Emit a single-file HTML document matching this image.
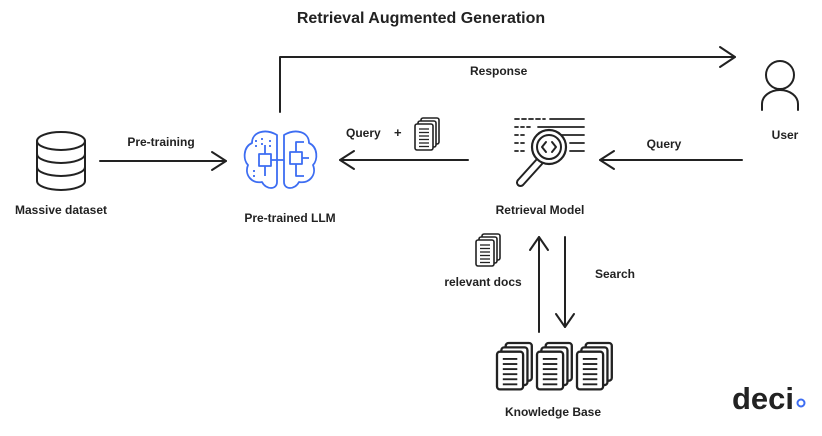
<!DOCTYPE html>
<html><head><meta charset="utf-8"><style>
html,body{margin:0;padding:0;background:#fff}
svg text{font-family:"Liberation Sans",sans-serif;font-weight:bold;fill:#222}
</style></head><body>
<svg width="822" height="431" viewBox="0 0 822 431" xmlns="http://www.w3.org/2000/svg">
<defs>
<g id="doc">
<rect x="6" y="0" width="18" height="26" rx="2" fill="#fff" stroke="#222" stroke-width="1.6"/>
<rect x="3" y="3" width="18" height="26" rx="2" fill="#fff" stroke="#222" stroke-width="1.6"/>
<rect x="0" y="6" width="18" height="26" rx="2" fill="#fff" stroke="#222" stroke-width="1.6"/>
<g stroke="#222" stroke-width="1.3"><line x1="4" y1="11" x2="14" y2="11"/><line x1="4" y1="14.5" x2="14" y2="14.5"/><line x1="4" y1="18" x2="14" y2="18"/><line x1="4" y1="21.5" x2="14" y2="21.5"/><line x1="4" y1="25" x2="14" y2="25"/><line x1="4" y1="28.5" x2="14" y2="28.5"/></g>
</g>
</defs>
<text x="421" y="23" font-size="16" text-anchor="middle" fill="#111">Retrieval Augmented Generation</text>
<g stroke="#222" stroke-width="2" fill="none" stroke-linecap="round" stroke-linejoin="round">
<polyline points="280,112 280,57 735,57"/>
<polyline points="720,47 735,57 720,67"/>
<line x1="100" y1="161" x2="226" y2="161"/><polyline points="212,152 226,161 212,170"/>
<line x1="468" y1="160" x2="340" y2="160"/><polyline points="354,151 340,160 354,169"/>
<line x1="742" y1="160" x2="600" y2="160"/><polyline points="614,151 600,160 614,169"/>
<line x1="539" y1="332" x2="539" y2="237"/><polyline points="530,250 539,237 548,250"/>
<line x1="565" y1="237" x2="565" y2="327"/><polyline points="556,314 565,327 574,314"/>
<ellipse cx="61" cy="141" rx="24" ry="9"/>
<path d="M37,141 V181 A24,9 0 0 0 85,181 V141"/>
<path d="M37,154 A24,9 0 0 0 85,154"/><path d="M37,167 A24,9 0 0 0 85,167"/>
<circle cx="780" cy="75" r="14"/>
<path d="M762,110 V104 A18,14 0 0 1 798,104 V110"/>
<g stroke-width="1.8">
<line x1="515" y1="119" x2="545" y2="119" stroke-dasharray="4,3"/><line x1="550" y1="119" x2="584" y2="119"/>
<line x1="515" y1="127" x2="530" y2="127" stroke-dasharray="3,3"/><line x1="538" y1="127" x2="584" y2="127"/>
<line x1="515" y1="135" x2="525" y2="135" stroke-dasharray="3,3"/><line x1="560" y1="135" x2="584" y2="135"/>
<line x1="515" y1="143" x2="525" y2="143" stroke-dasharray="3,3"/><line x1="570" y1="143" x2="584" y2="143"/>
<line x1="515" y1="151" x2="525" y2="151" stroke-dasharray="3,3"/><line x1="570" y1="151" x2="584" y2="151"/>
</g>
<circle cx="549" cy="147" r="17" fill="#fff" stroke-width="2.2"/>
<circle cx="549" cy="147" r="12"/>
<polyline points="546,142 542,147 546,152"/><polyline points="552,142 556,147 552,152"/>
<path d="M537,159 L518,180 A3,3 0 0 0 523,185 L542,164"/>
</g>
<g stroke="#3d6df2" stroke-width="1.8" fill="none" stroke-linejoin="round">
<path d="M277,135 C265,128 252,132 252,143 C243,147 243,160 248,165 C244,175 252,184 262,182 C266,190 277,190 277,182 Z"/>
<path d="M284,135 C296,128 309,132 309,143 C318,147 318,160 313,165 C317,175 309,184 299,182 C295,190 284,190 284,182 Z"/>
<rect x="259" y="154" width="12" height="12"/><rect x="290" y="152" width="12" height="12"/>
<path d="M271,160 H284 M302,158 H309 M296,152 V142 H304 M296,164 V176 H304 M265,154 V145 M265,166 V176"/>
<g stroke-dasharray="2,3"><path d="M256,140 V150 M262,138 V148 M270,140 V150 M254,170 V178"/></g>
</g>
<use href="#doc" x="415" y="118"/>
<use href="#doc" x="476" y="234"/>
<use href="#doc" x="497" y="343" transform="translate(497 343) scale(1.45) translate(-497 -343)"/>
<use href="#doc" x="497" y="343" transform="translate(537 343) scale(1.45) translate(-497 -343)"/>
<use href="#doc" x="497" y="343" transform="translate(577 343) scale(1.45) translate(-497 -343)"/>
<text x="470" y="75" font-size="12">Response</text>
<text x="785" y="139" font-size="12" text-anchor="middle">User</text>
<text x="664" y="148" font-size="12" text-anchor="middle">Query</text>
<text x="346" y="137" font-size="12">Query</text>
<text x="394" y="137" font-size="13">+</text>
<text x="161" y="146" font-size="12" text-anchor="middle">Pre-training</text>
<text x="61" y="214" font-size="12" text-anchor="middle">Massive dataset</text>
<text x="290" y="222" font-size="12" text-anchor="middle">Pre-trained LLM</text>
<text x="540" y="214" font-size="12" text-anchor="middle">Retrieval Model</text>
<text x="615" y="278" font-size="12" text-anchor="middle">Search</text>
<text x="483" y="286" font-size="12" text-anchor="middle">relevant docs</text>
<text x="553" y="416" font-size="12" text-anchor="middle">Knowledge Base</text>
<text x="732" y="409" font-size="31" fill="#222" textLength="62" lengthAdjust="spacingAndGlyphs">deci</text>
<circle cx="801" cy="403" r="3.5" fill="none" stroke="#3d6df2" stroke-width="2"/>
</svg>
</body></html>
